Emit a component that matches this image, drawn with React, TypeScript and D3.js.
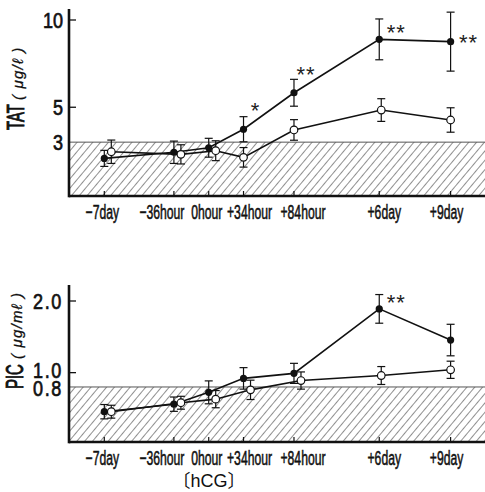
import React from "react";
import * as d3 from "d3";

// time points (category positions on the x axis, in spacing units)
const timeLabels = ["−7day", "−36hour", "0hour", "+34hour", "+84hour", "+6day", "+9day"];
const timeUnits = [0, 2, 3, 4, 5.45, 7.9, 9.95];

// TAT (μg/ℓ)
const tatFilled = [2.07, 2.42, 2.68, 3.74, 5.83, 8.89, 8.76];
const tatFilledErr = [0.46, 0.64, 0.54, 0.72, 0.77, 1.17, 1.69];
const tatOpen = [2.45, 2.3, 2.51, 2.13, 3.7, 4.84, 4.27];
const tatOpenErr = [0.67, 0.55, 0.57, 0.56, 0.59, 0.65, 0.7];
const tatSig = ["", "", "", "*", "**", "**", "**"];
const tatTicks = [10, 5, 3];

// PIC (μg/mℓ)
const picFilled = [0.455, 0.56, 0.725, 0.92, 0.99, 1.89, 1.455];
const picFilledErr = [0.1, 0.1, 0.16, 0.15, 0.14, 0.2, 0.22];
const picOpen = [0.455, 0.58, 0.63, 0.76, 0.89, 0.96, 1.04];
const picOpenErr = [0.09, 0.09, 0.12, 0.135, 0.12, 0.125, 0.12];
const picSig = ["", "", "", "", "", "**", ""];
const picTicks = [2.0, 1.0, 0.8];

const W = 485, H = 492;
const axisX = 69;
const sans = "'Liberation Sans', Arial, sans-serif";
const labelNudge = [-2, -12, -2, 6, 9, 5, -4];

const xScale = d3.scaleLinear().domain([0, 9.95]).range([104.3, 450.6]);

// condensed text: squeeze horizontally with a transform
const CText = ({ x, y, sx = 0.75, rotate = 0, anchor = "middle", size, spacing = 0, children, dy = "0", italic = false, weight = 0.7 }) => (
  <text
    transform={`translate(${x},${y}) rotate(${rotate}) scale(${sx},1)`}
    textAnchor={anchor}
    dy={dy}
    fontFamily={sans}
    fontSize={size}
    fontStyle={italic ? "italic" : "normal"}
    letterSpacing={spacing}
    fill="#111"
    stroke="#111"
    strokeWidth={weight}
  >
    {children}
  </text>
);

const Panel = ({ cfg }) => {
  const { y, top, bottom, filled, filledErr, open, openErr, sig, ticks, tickFmt, tickMarks, tickNudge, normal, dodgeN, labelY, titleMain, titleUnit, titleX, titleY } = cfg;
  const px = i => xScale(timeUnits[i]);
  const pxo = i => px(i) + (i < dodgeN ? 7 : i === 5 ? 2 : 0);
  const lineF = d3.line().x((d, i) => px(i)).y(d => y(d));
  const lineO = d3.line().x((d, i) => pxo(i)).y(d => y(d));
  const errBar = (x, v, e, key) => (
    <g key={key} stroke="#111" strokeWidth={1.2}>
      <line x1={x} x2={x} y1={y(v - e)} y2={y(v + e)} />
      <line x1={x - 4} x2={x + 4} y1={y(v - e)} y2={y(v - e)} />
      <line x1={x - 4} x2={x + 4} y1={y(v + e)} y2={y(v + e)} />
    </g>
  );
  const sigPos = i => (i === 6 ? [18, 8] : i === 5 ? [17, 1] : [12, -11]);
  return (
    <g>
      <rect x={axisX} y={y(normal)} width={W - axisX} height={bottom - y(normal)} fill="url(#hatch)" />
      <line x1={axisX} x2={W} y1={y(normal)} y2={y(normal)} stroke="#555" strokeWidth={1} />
      {timeUnits.map((u, i) => (
        <line key={i} x1={px(i)} x2={px(i)} y1={bottom} y2={bottom - 5} stroke="#111" strokeWidth={1.2} />
      ))}
      <line x1={axisX} x2={W} y1={bottom} y2={bottom} stroke="#111" strokeWidth={2.6} />
      <line x1={axisX} x2={axisX} y1={top} y2={bottom + 1.3} stroke="#111" strokeWidth={2.6} />
      {tickMarks.map(t => (
        <line key={t} x1={axisX} x2={axisX + 7} y1={y(t)} y2={y(t)} stroke="#111" strokeWidth={1.3} />
      ))}
      {ticks.map((t, i) => (
        <CText key={t} x={63} y={y(t) + tickNudge[i]} dy="0.36em" anchor="end" size={22} sx={0.82} spacing={tickFmt === "1f" ? 2 : 0}>
          {tickFmt === "1f" ? d3.format(".1f")(t) : t}
        </CText>
      ))}
      {timeLabels.map((l, i) => (
        <CText key={l} x={px(i) + labelNudge[i]} y={labelY} size={21} sx={0.58} weight={0.6}>
          {l}
        </CText>
      ))}
      <CText x={titleX} y={titleY} rotate={-90} anchor="start" size={24} sx={0.62} weight={0.9}>
        {titleMain}
      </CText>
      <CText x={titleX - 1} y={titleY - 30} rotate={-90} anchor="start" size={15} sx={1} spacing={1.2} italic weight={0.3}>
        {titleUnit}
      </CText>
      {open.map((v, i) => errBar(pxo(i), v, openErr[i], "eo" + i))}
      {filled.map((v, i) => errBar(px(i), v, filledErr[i], "ef" + i))}
      <path d={lineO(open)} fill="none" stroke="#111" strokeWidth={1.6} />
      <path d={lineF(filled)} fill="none" stroke="#111" strokeWidth={1.6} />
      {filled.map((v, i) => <circle key={"f" + i} cx={px(i)} cy={y(v)} r={3.6} fill="#111" />)}
      {open.map((v, i) => <circle key={"o" + i} cx={pxo(i)} cy={y(v)} r={3.8} fill="#fff" stroke="#111" strokeWidth={1.2} />)}
      {sig.map((s, i) => s && (
        <text key={"s" + i} x={px(i) + sigPos(i)[0]} y={y(filled[i]) + sigPos(i)[1]} textAnchor="middle" fontFamily={sans} fontSize={22} letterSpacing={1} fill="#222">
          {s}
        </text>
      ))}
    </g>
  );
};

export default function App() {
  const tatCfg = {
    y: d3.scaleLinear().domain([0, 10]).range([194.5, 20]),
    top: 9, bottom: 196,
    filled: tatFilled, filledErr: tatFilledErr, open: tatOpen, openErr: tatOpenErr, sig: tatSig,
    ticks: tatTicks, tickFmt: "d", tickMarks: [10, 5], tickNudge: [0, 0, 0], normal: 3, dodgeN: 3, labelY: 219,
    titleMain: "TAT", titleUnit: "( μg/ℓ )", titleX: 24, titleY: 130,
  };
  const picCfg = {
    y: d3.scaleLinear().domain([0, 2]).range([444.3, 301]),
    top: 285, bottom: 442,
    filled: picFilled, filledErr: picFilledErr, open: picOpen, openErr: picOpenErr, sig: picSig,
    ticks: picTicks, tickFmt: "1f", tickMarks: [2, 1], tickNudge: [0, -3, 1], normal: 0.8, dodgeN: 5, labelY: 465,
    titleMain: "PIC", titleUnit: "( μg/mℓ )", titleX: 23, titleY: 389,
  };
  return (
    <svg width={W} height={H} style={{ position: "absolute", left: 0, top: 0, background: "#fff" }}>
      <defs>
        <pattern id="hatch" width={6} height={6} patternUnits="userSpaceOnUse" patternTransform="rotate(40)">
          <line x1={0} y1={0} x2={0} y2={6} stroke="#222" strokeWidth={1} />
        </pattern>
      </defs>
      <rect width={W} height={H} fill="#fff" />
      <Panel cfg={tatCfg} />
      <Panel cfg={picCfg} />
      <text x={209} y={487} textAnchor="middle" fontFamily="'Liberation Sans', 'Noto Sans CJK JP', sans-serif" fontSize={18} fill="#111">
        〔hCG〕
      </text>
    </svg>
  );
}
